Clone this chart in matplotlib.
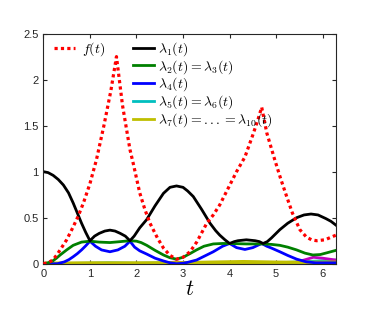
import numpy as np
import matplotlib.pyplot as plt
from matplotlib.lines import Line2D

plt.rcParams['mathtext.fontset'] = 'cm'
plt.rcParams['font.family'] = 'Liberation Sans'

# f(t), red dotted
t_f = [0, 0.1, 0.2, 0.28, 0.36, 0.5, 0.64, 0.75, 0.86, 1.0, 1.14, 1.3, 1.45, 1.57, 1.7, 1.86,
       1.93, 2.07, 2.18, 2.29, 2.45, 2.58, 2.72, 2.86, 3.0, 3.15, 3.3, 3.51, 3.65, 3.79, 4.0,
       4.15, 4.33, 4.5, 4.6, 4.69, 4.8, 4.97, 5.1, 5.22, 5.35, 5.51, 5.65, 5.76, 5.87, 6.05,
       6.283]
f_vals = [0, 0.01, 0.04, 0.09, 0.15, 0.26, 0.40, 0.52, 0.66, 0.87, 1.13, 1.5, 1.88, 2.25, 1.72,
          1.24, 1.09, 0.77, 0.59, 0.44, 0.28, 0.17, 0.09, 0.05, 0.07, 0.13, 0.24, 0.44, 0.53,
          0.64, 0.85, 1.0, 1.16, 1.4, 1.55, 1.70, 1.42, 1.13, 0.92, 0.74, 0.55, 0.37, 0.29,
          0.26, 0.25, 0.26, 0.31]

# lambda_1
t_l1 = [0, 0.1, 0.21, 0.32, 0.43, 0.54, 0.64, 0.73, 0.82, 0.91, 1.0, 1.1, 1.2, 1.32, 1.43,
        1.54, 1.65, 1.76, 1.86, 1.95, 2.07, 2.22, 2.4, 2.58, 2.72, 2.86, 3.0, 3.1, 3.22, 3.4,
        3.58, 3.7, 3.79, 3.9, 4.0, 4.1, 4.18, 4.36, 4.55, 4.64, 4.72, 4.81, 4.9, 5.08, 5.25,
        5.44, 5.6, 5.75, 5.9, 6.07, 6.18, 6.283]
l1 = [1.0, 0.99, 0.96, 0.915, 0.855, 0.77, 0.66, 0.55, 0.44, 0.34, 0.25, 0.30, 0.33, 0.355,
      0.365, 0.355, 0.33, 0.30, 0.25, 0.30, 0.39, 0.48, 0.63, 0.765, 0.83, 0.845, 0.83, 0.79,
      0.73, 0.59, 0.44, 0.36, 0.31, 0.26, 0.22, 0.24, 0.25, 0.26, 0.25, 0.24, 0.22, 0.24,
      0.28, 0.37, 0.44, 0.50, 0.53, 0.54, 0.53, 0.49, 0.46, 0.42]

# lambda_2 = lambda_3
t_l2 = [0, 0.1, 0.2, 0.28, 0.36, 0.5, 0.64, 0.82, 1.0, 1.2, 1.43, 1.65, 1.86, 2.0, 2.1, 2.22,
        2.4, 2.58, 2.72, 2.86, 3.0, 3.15, 3.29, 3.45, 3.65, 3.85, 4.0, 4.36, 4.7, 4.9, 5.08,
        5.25, 5.44, 5.62, 5.79, 5.95, 6.1, 6.283]
l2 = [0, 0.01, 0.03, 0.06, 0.095, 0.15, 0.2, 0.235, 0.245, 0.235, 0.23, 0.24, 0.25, 0.245,
      0.23, 0.2, 0.145, 0.095, 0.065, 0.05, 0.07, 0.11, 0.15, 0.19, 0.215, 0.22, 0.22, 0.215,
      0.215, 0.21, 0.2, 0.18, 0.15, 0.115, 0.095, 0.1, 0.12, 0.145]

# lambda_4
t_l4 = [0, 0.3, 0.45, 0.55, 0.64, 0.73, 0.82, 0.91, 1.0, 1.12, 1.25, 1.43, 1.6, 1.75, 1.86,
        1.96, 2.07, 2.22, 2.4, 2.58, 2.72, 2.86, 3.0, 3.1, 3.29, 3.45, 3.65, 3.85, 4.0, 4.15,
        4.33, 4.5, 4.69, 4.8, 4.9, 5.08, 5.25, 5.44, 5.65, 5.85, 6.283]
l4 = [0, 0.0, 0.02, 0.045, 0.076, 0.11, 0.15, 0.195, 0.245, 0.19, 0.15, 0.13, 0.15, 0.19,
      0.245, 0.18, 0.14, 0.105, 0.06, 0.03, 0.01, 0.0, 0.005, 0.015, 0.04, 0.08, 0.13, 0.19,
      0.22, 0.175, 0.155, 0.175, 0.22, 0.19, 0.17, 0.13, 0.09, 0.05, 0.02, 0.01, 0.01]

# lambda_5 = lambda_6
t_l5 = [0, 1.0, 1.4, 2.0, 2.86, 3.5, 4.3, 5.0, 5.5, 5.9, 6.283]
l5 = [0, 0.006, 0.01, 0.005, 0.01, 0.008, 0.012, 0.01, 0.02, 0.03, 0.04]

# another eigenvalue (not in legend)
t_lm = [0, 2.5, 2.86, 3.2, 5.3, 5.6, 5.8, 6.0, 6.283]
lm = [0, 0.0, 0.02, 0.0, 0.0, 0.04, 0.07, 0.06, 0.04]

# lambda_7 ... lambda_10
t_l7 = [0, 1.0, 2.0, 3.0, 3.6, 4.3, 5.0, 5.6, 6.283]
l7 = [0, 0.004, 0.004, 0.006, 0.012, 0.018, 0.012, 0.01, 0.012]

fig = plt.figure(figsize=(3.74, 3.11), dpi=100)
ax = fig.add_axes([0.116, 0.152, 0.782, 0.74])

ax.plot(t_l7, l7, color=(0.75, 0.75, 0), lw=3, zorder=2)
ax.plot(t_lm, lm, color='m', lw=2, zorder=1.9)
ax.plot(t_l5, l5, color='c', lw=2, zorder=1.8)
ax.plot(t_l4, l4, color='b', lw=2, zorder=2.1)
ax.plot(t_l2, l2, color=(0, 0.5, 0), lw=2, zorder=2.2)
ax.plot(t_l1, l1, color='k', lw=2, zorder=2.3)
ax.plot(t_f, f_vals, color='r', lw=2.3, ls=(0, (1, 1)), zorder=3)

ax.set_xlim(0, 2 * np.pi)
ax.set_ylim(0, 2.5)
ax.set_xticks([0, 1, 2, 3, 4, 5, 6])
ax.set_yticks([0, 0.5, 1, 1.5, 2, 2.5])
ax.set_yticklabels(['0', '0.5', '1', '1.5', '2', '2.5'])
ax.tick_params(direction='in', top=True, right=True, labelsize=8, colors='#262626',
               length=3, width=0.8)
for s in ax.spines.values():
    s.set_color('#262626')
    s.set_linewidth(0.8)
ax.set_xlabel('$t$', fontsize=16, labelpad=0)

h_f = [Line2D([], [], color='r', lw=2.3, ls=(0, (1, 1)))]
leg1 = ax.legend(h_f, ['$f(t)$'], loc='upper left', bbox_to_anchor=(0.0, 1.02),
                 frameon=False, fontsize=10, handlelength=1.5, handletextpad=0.5,
                 borderpad=0.3)
ax.add_artist(leg1)

h_l = [Line2D([], [], color='k', lw=2),
       Line2D([], [], color=(0, 0.5, 0), lw=2),
       Line2D([], [], color='b', lw=2),
       Line2D([], [], color='c', lw=2),
       Line2D([], [], color=(0.75, 0.75, 0), lw=2)]
lab_l = [r'$\lambda_1(t)$', r'$\lambda_2(t) = \lambda_3(t)$', r'$\lambda_4(t)$',
         r'$\lambda_5(t) = \lambda_6(t)$', r'$\lambda_7(t) = \mathrm{...} = \lambda_{10}(t)$']
ax.legend(h_l, lab_l, loc='upper left', bbox_to_anchor=(0.27, 1.02),
          frameon=False, fontsize=10, handlelength=1.5, handletextpad=0.3,
          borderpad=0.3, labelspacing=0.0)

fig.savefig('out.png', dpi=100)
